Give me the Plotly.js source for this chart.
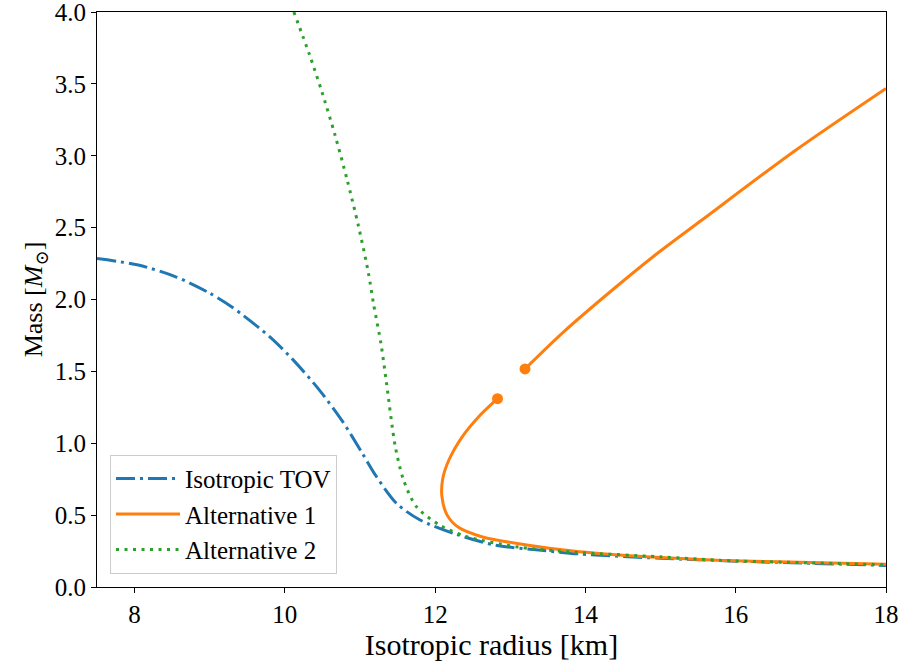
<!DOCTYPE html>
<html>
<head>
<meta charset="utf-8">
<script src="https://cdn.plot.ly/plotly-3.0.1.min.js"></script>
<style>html,body{margin:0;padding:0;background:#fff;}#chart{width:905px;height:668px;}</style>
</head>
<body>
<div id="chart"></div>
<script>
// Isotropic TOV
const tovR = [7.5, 8.05, 8.54, 8.98, 9.29, 9.80, 10.11, 10.46, 10.77, 11.02, 11.22, 11.49, 11.80, 12.29, 12.81, 13.38, 13.92, 15.0, 16.0, 17.0, 18.0];
const tovM = [2.285, 2.24, 2.16, 2.05, 1.95, 1.74, 1.58, 1.37, 1.15, 0.94, 0.767, 0.58, 0.466, 0.365, 0.29, 0.257, 0.23, 0.20, 0.18, 0.165, 0.15];

// Alternative 1 (two branches, separated by a gap)
const alt1R = [18.0, 17.0, 15.82, 15.0, 13.92, 13.24, 12.62, 12.31, 12.16, 12.09, 12.10, 12.18, 12.36, 12.58, 12.83, null, 13.196, 13.71, 14.33, 14.90, 15.55, 16.77, 18.0];
const alt1M = [0.158, 0.17, 0.185, 0.205, 0.245, 0.29, 0.35, 0.415, 0.50, 0.63, 0.75, 0.88, 1.045, 1.185, 1.31, null, 1.517, 1.775, 2.054, 2.298, 2.553, 3.028, 3.468];

// Alternative 1 branch end points
const endR = [12.83, 13.196];
const endM = [1.31, 1.517];

// Alternative 2
const alt2R = [10.12, 10.33, 10.49, 10.67, 10.83, 10.98, 11.11, 11.18, 11.28, 11.35, 11.47, 11.58, 11.75, 12.06, 12.42, 13.13, 13.92, 15.0, 15.82, 17.0, 18.0];
const alt2M = [4.0, 3.70, 3.45, 3.14, 2.83, 2.51, 2.19, 1.97, 1.69, 1.43, 0.976, 0.744, 0.559, 0.431, 0.35, 0.276, 0.24, 0.21, 0.185, 0.168, 0.155];

const xTicks = [8, 10, 12, 14, 16, 18];
const yTicks = [0, 0.5, 1.0, 1.5, 2.0, 2.5, 3.0, 3.5, 4.0];

const FONT = "Liberation Serif, DejaVu Serif, serif";

const traces = [
  {x: tovR, y: tovM, type: 'scatter', mode: 'lines', name: 'Isotropic TOV',
   line: {color: '#1f77b4', width: 3, dash: '19px,5px,3px,5px', shape: 'spline', smoothing: 0.8}},
  {x: alt1R, y: alt1M, type: 'scatter', mode: 'lines', name: 'Alternative 1', connectgaps: false,
   line: {color: '#ff7f0e', width: 3, shape: 'spline', smoothing: 0.8}},
  {x: alt2R, y: alt2M, type: 'scatter', mode: 'lines', name: 'Alternative 2',
   line: {color: '#2ca02c', width: 3, dash: '3px,5.5px', shape: 'spline', smoothing: 0.8}},
  {x: endR, y: endM, type: 'scatter', mode: 'markers', showlegend: false,
   marker: {color: '#ff7f0e', size: 11}}
];

const axisCommon = {
  showline: true, linecolor: '#000', linewidth: 1, mirror: true,
  ticks: 'outside', ticklen: 5, tickwidth: 1, tickcolor: '#000',
  showgrid: false, zeroline: false, ticklabeloverflow: 'allow',
  tickfont: {family: FONT, size: 25, color: '#000'}
};

const layout = {
  width: 905, height: 668,
  margin: {l: 97, r: 19, t: 12, b: 81},
  paper_bgcolor: '#fff', plot_bgcolor: '#fff',
  font: {family: FONT, color: '#000'},
  xaxis: Object.assign({}, axisCommon, {
    range: [7.5, 18], tickvals: xTicks, ticktext: xTicks.map(String),
    title: {text: 'Isotropic radius [km]', font: {family: FONT, size: 30}, standoff: 6}
  }),
  yaxis: Object.assign({}, axisCommon, {
    range: [0, 4.0005], tickvals: yTicks, ticktext: yTicks.map(v => v.toFixed(1)),
    title: {text: 'Mass [<i>M</i><sub>⊙</sub>]', font: {family: FONT, size: 26}, standoff: 4}
  }),
  legend: {
    x: 0.0165, y: 0.023, xanchor: 'left', yanchor: 'bottom',
    bgcolor: 'rgba(255,255,255,0.8)', bordercolor: '#cccccc', borderwidth: 1,
    font: {family: FONT, size: 25, color: '#000'},
    itemwidth: 64, tracegroupgap: 0
  },
  showlegend: true
};

Plotly.newPlot('chart', traces, layout, {displayModeBar: false, staticPlot: true});
</script>
</body>
</html>
